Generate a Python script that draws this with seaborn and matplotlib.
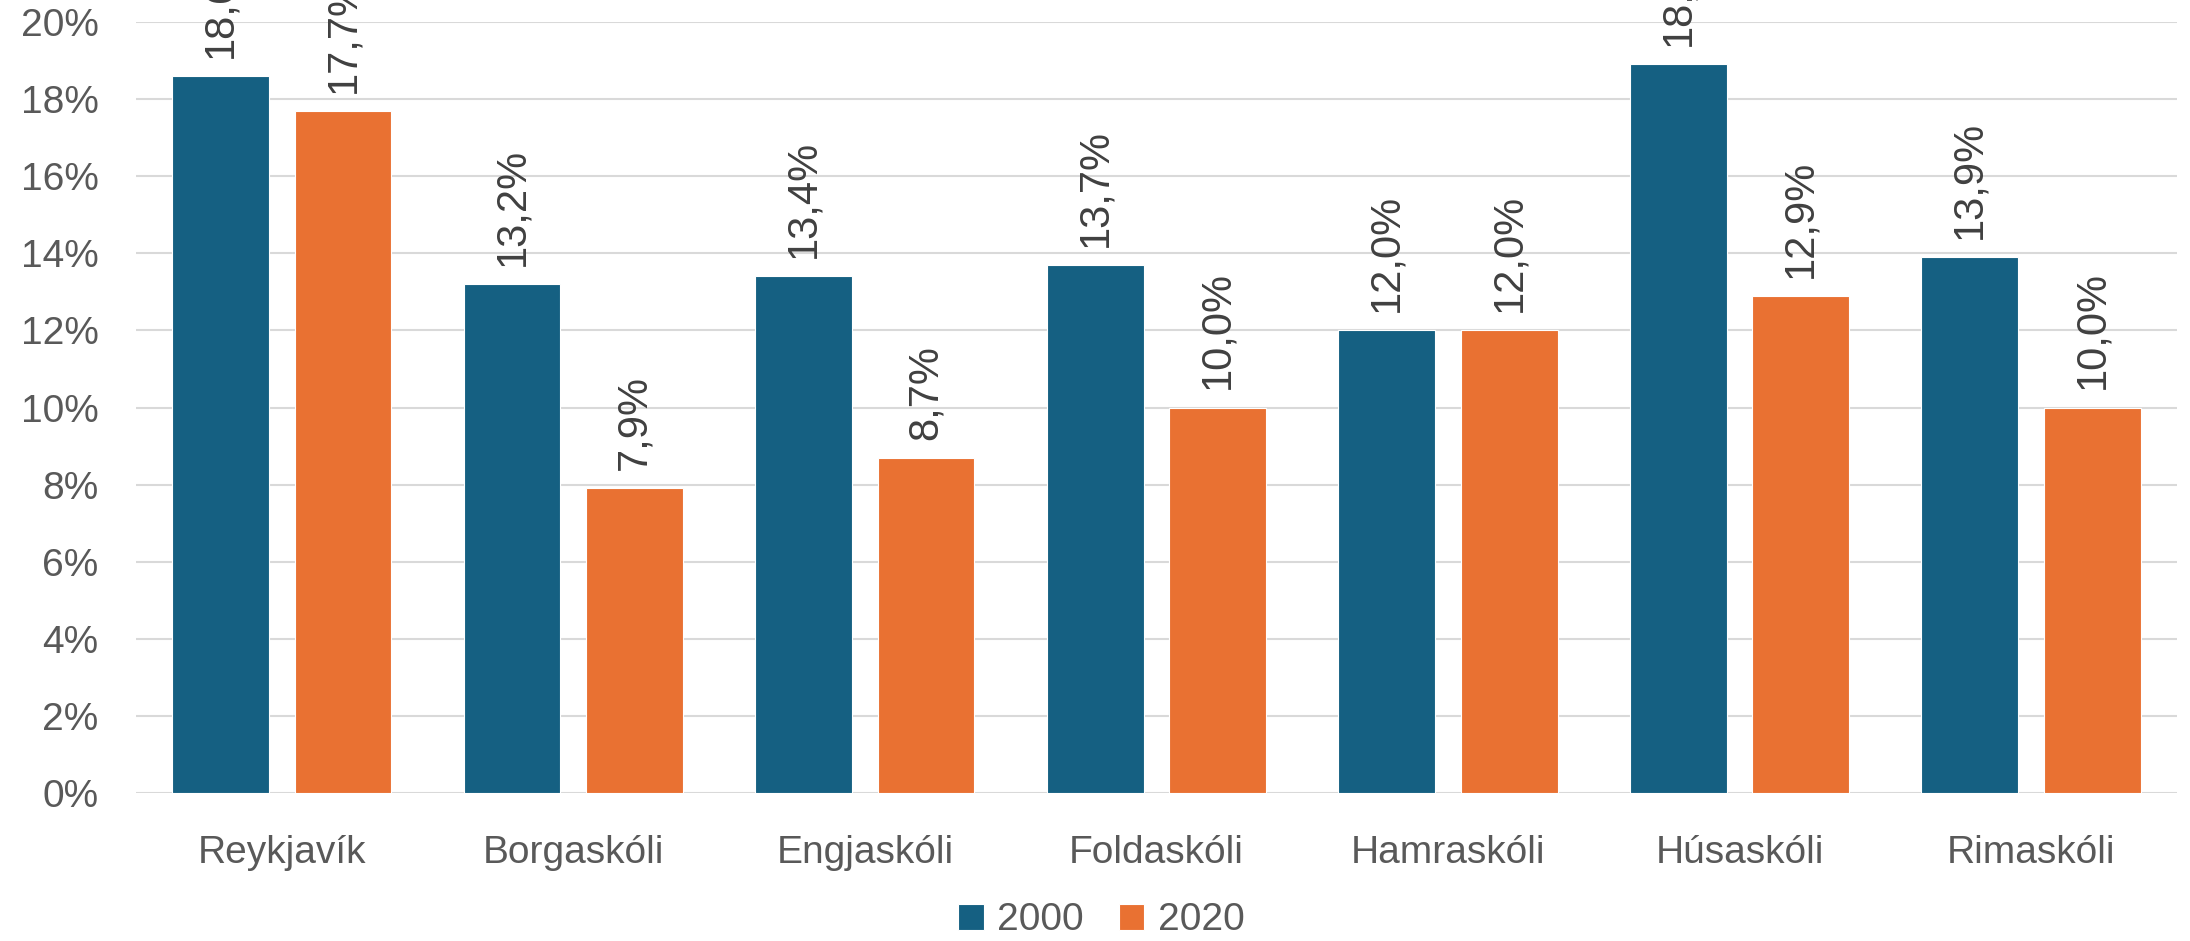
import pandas as pd
import seaborn as sns
import matplotlib.pyplot as plt
from matplotlib.ticker import FuncFormatter

schools = ['Reykjavík', 'Borgaskóli', 'Engjaskóli', 'Foldaskóli',
           'Hamraskóli', 'Húsaskóli', 'Rimaskóli']
share_2000 = [18.6, 13.2, 13.4, 13.7, 12.0, 18.9, 13.9]
share_2020 = [17.7, 7.9, 8.7, 10.0, 12.0, 12.9, 10.0]
years = ['2000', '2020']

df = pd.DataFrame({
    'school': schools * 2,
    'year': [years[0]] * len(schools) + [years[1]] * len(schools),
    'share': share_2000 + share_2020,
})

sns.set_theme(style='white')
plt.rcParams['font.family'] = ['Liberation Sans', 'DejaVu Sans']
txt = '#595959'
fs = 28

fig = plt.figure(figsize=(21.9, 9.41), dpi=100)
ax = fig.add_axes([0.0621, 0.1573, 0.9319, 0.8193])

sns.barplot(data=df, x='school', y='share', hue='year', order=schools,
            hue_order=years, palette=['#156082', '#E97132'], saturation=1,
            width=0.84, gap=0.21, edgecolor='white', linewidth=0.8,
            ax=ax, zorder=3)

# data labels sit above the bars; the tallest ones run past the top edge
for cont in ax.containers:
    labels = [f'{v:.1f}'.replace('.', ',') + '%' for v in cont.datavalues]
    ax.bar_label(cont, labels=labels, rotation=90, padding=13,
                 fontsize=30, color='#404040', clip_on=False)

ax.set_ylim(0, 20)
ax.set_xlim(-0.5, 6.5)
ax.set_yticks(range(0, 21, 2))
ax.yaxis.set_major_formatter(FuncFormatter(lambda v, p: f'{v:.0f}%'))
ax.yaxis.grid(True, color='#D9D9D9', linewidth=1.5, zorder=0)
ax.set_axisbelow(True)
sns.despine(left=True, bottom=True)
ax.tick_params(axis='y', length=0, pad=27, labelsize=fs, labelcolor=txt)
ax.tick_params(axis='x', length=0, pad=30, labelsize=fs, labelcolor=txt)
ax.set_xlabel('')
ax.set_ylabel('')

ax.get_legend().remove()
handles, lbls = ax.get_legend_handles_labels()
fig.legend(handles[:2], lbls[:2], loc='lower center', bbox_to_anchor=(0.503, -0.022),
           ncol=2, frameon=False, fontsize=fs, labelcolor=txt,
           handlelength=0.65, handleheight=0.65, handletextpad=0.35,
           columnspacing=0.9, borderaxespad=0.2)

plt.savefig('out.png', dpi=100)
